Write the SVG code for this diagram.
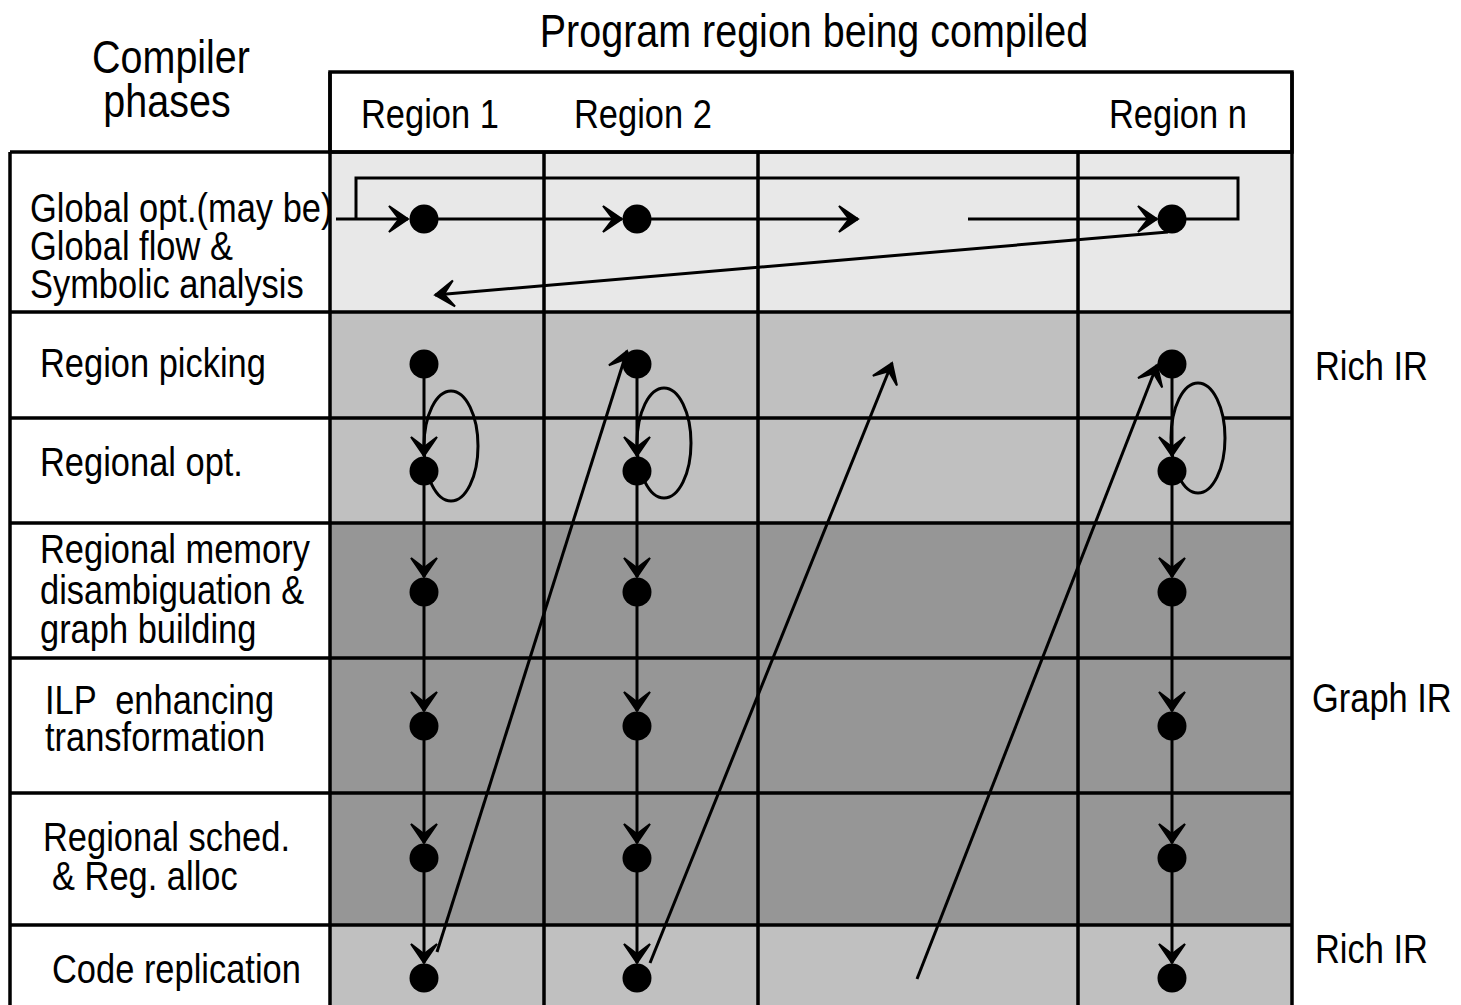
<svg xmlns="http://www.w3.org/2000/svg" width="1461" height="1005" viewBox="0 0 1461 1005">
  <style>
    text { font-family: "Liberation Sans", "Arial", sans-serif; fill: #000; }
    .lbl { font-size: 41px; }
    .big { font-size: 47px; }
    .grid { stroke: #000; stroke-width: 3.5; fill: none; }
    .edge { stroke: #000; stroke-width: 3; fill: none; }
    .node { fill: #000; }
  </style>
  <defs>
    <marker id="head" viewBox="-22 -16 24 32" markerWidth="24" markerHeight="32" refX="0" refY="0" orient="auto" markerUnits="userSpaceOnUse">
      <path d="M0,0 L-19,-13 L-9,0 L-19,13 Z" fill="#000" stroke="#000" stroke-width="2" stroke-linejoin="miter"/>
    </marker>
  </defs>
  <rect width="1461" height="1005" fill="#fff"/>

  <!-- headings (narrow face obtained by horizontal scaling) -->
  <text class="big" text-anchor="middle" transform="translate(814,47) scale(0.84,1)">Program region being compiled</text>
  <text class="big" text-anchor="middle" transform="translate(171,73) scale(0.84,1)">Compiler</text>
  <text class="big" text-anchor="middle" transform="translate(167,117) scale(0.84,1)">phases</text>

  <!-- phase bands -->
  <g id="bands">
    <rect x="330" y="152" width="962" height="160" fill="#e8e8e8"/>
    <rect x="330" y="312" width="962" height="211" fill="#c0c0c0"/>
    <rect x="330" y="523" width="962" height="402" fill="#969696"/>
    <rect x="330" y="925" width="962" height="80" fill="#c0c0c0"/>
  </g>

  <!-- table grid -->
  <g id="grid" class="grid">
    <rect x="330" y="72" width="962" height="80" fill="#fff"/>
    <path d="M10,152H1292 M10,312H1292 M10,418H1292 M10,523H1292 M10,658H1292 M10,793H1292 M10,925H1292"/>
    <path d="M10,152V1005 M330,72V1005 M544,152V1005 M758,152V1005 M1078,152V1005 M1292,72V1005"/>
  </g>

  <!-- column headers -->
  <g id="col-headers" class="lbl">
    <text id="region1" transform="translate(361,128) scale(0.84,1)">Region 1</text>
    <text id="region2" transform="translate(574,128) scale(0.84,1)">Region 2</text>
    <text id="regionn" transform="translate(1109,128) scale(0.84,1)">Region n</text>
  </g>

  <!-- phase labels -->
  <g id="phase-global" class="lbl">
    <text transform="translate(30,222) scale(0.84,1)">Global opt.(may be)</text>
    <text transform="translate(30,260) scale(0.84,1)">Global flow &amp;</text>
    <text transform="translate(30,298) scale(0.84,1)">Symbolic analysis</text>
  </g>
  <g id="phase-picking" class="lbl"><text transform="translate(40,377) scale(0.84,1)">Region picking</text></g>
  <g id="phase-regopt" class="lbl"><text transform="translate(40,476) scale(0.84,1)">Regional opt.</text></g>
  <g id="phase-memory" class="lbl">
    <text transform="translate(40,563) scale(0.84,1)">Regional memory</text>
    <text transform="translate(40,604) scale(0.84,1)">disambiguation &amp;</text>
    <text transform="translate(40,643) scale(0.84,1)">graph building</text>
  </g>
  <g id="phase-ilp" class="lbl">
    <text transform="translate(45,714) scale(0.84,1)" xml:space="preserve">ILP  enhancing</text>
    <text transform="translate(45,751) scale(0.84,1)">transformation</text>
  </g>
  <g id="phase-sched" class="lbl">
    <text transform="translate(43,851) scale(0.84,1)">Regional sched.</text>
    <text transform="translate(52,890) scale(0.84,1)">&amp; Reg. alloc</text>
  </g>
  <g id="phase-replication" class="lbl"><text transform="translate(52,983) scale(0.84,1)">Code replication</text></g>

  <!-- IR annotations -->
  <g id="ir-labels" class="lbl">
    <text transform="translate(1315,380) scale(0.84,1)">Rich IR</text>
    <text transform="translate(1312,712) scale(0.84,1)">Graph IR</text>
    <text transform="translate(1315,963) scale(0.84,1)">Rich IR</text>
  </g>

  <!-- self loops of regional optimisation -->
  <g id="loops" class="edge">
    <ellipse cx="451" cy="446" rx="27" ry="55"/>
    <ellipse cx="664" cy="443" rx="27" ry="55"/>
    <ellipse cx="1198" cy="438" rx="27" ry="55" fill="#c0c0c0"/>
  </g>

  <!-- connectors -->
  <g id="connectors" class="edge">
    <!-- global pass across all regions -->
    <path d="M336,219H408" marker-end="url(#head)"/>
    <path d="M424,219H622" marker-end="url(#head)"/>
    <path d="M637,219H858" marker-end="url(#head)"/>
    <path d="M968,219H1157" marker-end="url(#head)"/>
    <path d="M1172,219H1238V178H356V219"/>
    <path d="M1168,232L435,295" marker-end="url(#head)"/>

    <!-- per-region phase chains -->
    <path d="M424,364V456" marker-end="url(#head)"/>
    <path d="M424,471V577" marker-end="url(#head)"/>
    <path d="M424,592V711" marker-end="url(#head)"/>
    <path d="M424,726V843" marker-end="url(#head)"/>
    <path d="M424,858V963" marker-end="url(#head)"/>

    <path d="M637,364V456" marker-end="url(#head)"/>
    <path d="M637,471V577" marker-end="url(#head)"/>
    <path d="M637,592V711" marker-end="url(#head)"/>
    <path d="M637,726V843" marker-end="url(#head)"/>
    <path d="M637,858V963" marker-end="url(#head)"/>

    <path d="M1172,364V456" marker-end="url(#head)"/>
    <path d="M1172,471V577" marker-end="url(#head)"/>
    <path d="M1172,592V711" marker-end="url(#head)"/>
    <path d="M1172,726V843" marker-end="url(#head)"/>
    <path d="M1172,858V963" marker-end="url(#head)"/>

    <!-- hand-off to the next region -->
    <path d="M437,952L627,351" marker-end="url(#head)"/>
    <path d="M650,963L892,363" marker-end="url(#head)"/>
    <path d="M917,979L1157,365" marker-end="url(#head)"/>
  </g>

  <!-- region nodes -->
  <g id="nodes-region1" class="node">
    <circle cx="424" cy="219" r="14.5"/>
    <circle cx="424" cy="364" r="14.5"/>
    <circle cx="424" cy="471" r="14.5"/>
    <circle cx="424" cy="592" r="14.5"/>
    <circle cx="424" cy="726" r="14.5"/>
    <circle cx="424" cy="858" r="14.5"/>
    <circle cx="424" cy="978" r="14.5"/>
  </g>
  <g id="nodes-region2" class="node">
    <circle cx="637" cy="219" r="14.5"/>
    <circle cx="637" cy="364" r="14.5"/>
    <circle cx="637" cy="471" r="14.5"/>
    <circle cx="637" cy="592" r="14.5"/>
    <circle cx="637" cy="726" r="14.5"/>
    <circle cx="637" cy="858" r="14.5"/>
    <circle cx="637" cy="978" r="14.5"/>
  </g>
  <g id="nodes-regionn" class="node">
    <circle cx="1172" cy="219" r="14.5"/>
    <circle cx="1172" cy="364" r="14.5"/>
    <circle cx="1172" cy="471" r="14.5"/>
    <circle cx="1172" cy="592" r="14.5"/>
    <circle cx="1172" cy="726" r="14.5"/>
    <circle cx="1172" cy="858" r="14.5"/>
    <circle cx="1172" cy="978" r="14.5"/>
  </g>
</svg>
